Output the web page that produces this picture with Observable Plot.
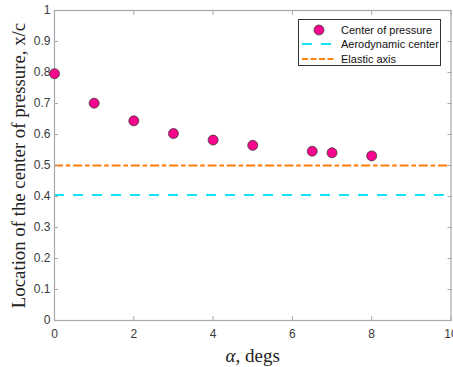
<!DOCTYPE html>
<html><head><meta charset="utf-8">
<script src="https://cdn.jsdelivr.net/npm/d3@7"></script>
<script src="https://cdn.jsdelivr.net/npm/@observablehq/plot@0.6"></script>
<style>
body{margin:0;background:#fff}
#wrap{position:relative;width:453px;height:367px;overflow:hidden}
#legend{position:absolute;left:298px;top:19px;width:143px;height:47px;border:0.8px solid #333;background:#fff;box-sizing:border-box;font-family:"Liberation Sans",Arial,sans-serif;font-size:11px;color:#111}
#legend .row{position:absolute;left:0;height:14px;display:flex;align-items:center}
#legend svg{display:block}
#legend span{margin-left:6px;white-space:nowrap}
</style></head><body><div id="wrap"></div>
<script>
// Data
const alpha = [0, 1, 2, 3, 4, 5, 6.5, 7, 8];
const xcp = [0.796, 0.701, 0.644, 0.603, 0.582, 0.565, 0.546, 0.541, 0.531];
const aeroCenter = [0.405];
const elasticAxis = [0.5];
const xTicks = [0, 2, 4, 6, 8, 10];
const yTicks = [0, 0.1, 0.2, 0.3, 0.4, 0.5, 0.6, 0.7, 0.8, 0.9, 1];
const yTickLabels = ["0", "0.1", "0.2", "0.3", "0.4", "0.5", "0.6", "0.7", "0.8", "0.9", "1"];
const seriesNames = ["Center of pressure", "Aerodynamic center", "Elastic axis"];
const xLabelSymbol = "α";
const xLabelRest = ", degs";
const yLabel = "Location of the center of pressure, x/c";

const colors = {cp: "#f7068d", ac: "#14e3f7", ea: "#ff7d0a"};
const dashAC = "10,9";
const dashEA = "9,2.8,4.6,2.8";
const points = alpha.map((a, i) => ({alpha: a, xcp: xcp[i]}));
const axisGray = "#a9a9a9";
const tickText = "#3a3a3a";

const plot = Plot.plot({
  width: 453, height: 367,
  marginLeft: 54, marginRight: 2.5, marginTop: 10, marginBottom: 47,
  x: {domain: [0, 10]},
  y: {domain: [0, 1]},
  style: {background: "#fff", overflow: "visible"},
  marks: [
    Plot.ruleY(aeroCenter, {stroke: colors.ac, strokeWidth: 2, strokeDasharray: dashAC}),
    Plot.ruleY(elasticAxis, {stroke: colors.ea, strokeWidth: 2, strokeDasharray: dashEA}),
    Plot.frame({stroke: axisGray, strokeWidth: 1.2}),
    Plot.axisX({ticks: xTicks, anchor: "bottom", tickSize: 0, tickPadding: 9, tickFormat: d => String(d), fontSize: 12, fontFamily: "Liberation Sans", fill: tickText, label: null}),
    Plot.axisX({ticks: xTicks, anchor: "bottom", tickSize: -4, text: null, label: null, stroke: axisGray}),
    Plot.axisX({ticks: xTicks, anchor: "top", tickSize: -4, text: null, label: null, stroke: axisGray}),
    Plot.axisY({ticks: yTicks, anchor: "left", tickSize: 0, tickPadding: 4, tickFormat: (d, i) => yTickLabels[i], fontSize: 12, fontFamily: "Liberation Sans", fill: tickText, label: null}),
    Plot.axisY({ticks: yTicks, anchor: "left", tickSize: -4, text: null, label: null, stroke: axisGray}),
    Plot.axisY({ticks: yTicks, anchor: "right", tickSize: -4, text: null, label: null, stroke: axisGray}),
    Plot.dot(points, {x: "alpha", y: "xcp", r: 5, fill: colors.cp, stroke: "#3c3c3c", strokeWidth: 0.8}),
    Plot.text([xLabelSymbol + xLabelRest], {frameAnchor: "bottom", dy: 35, fontSize: 19, fontFamily: "Liberation Serif", fill: "#222", lineAnchor: "middle", textAnchor: "middle"}),
    Plot.text([yLabel], {frameAnchor: "left", dx: -36, rotate: -90, fontSize: 18.8, fontFamily: "Liberation Serif", fill: "#222", lineAnchor: "middle", textAnchor: "middle"})
  ]
});

// italic alpha
const ns = "http://www.w3.org/2000/svg";
plot.querySelectorAll("text").forEach(t => {
  if (t.textContent === xLabelSymbol + xLabelRest) {
    t.textContent = "";
    const a = document.createElementNS(ns, "tspan");
    a.setAttribute("font-style", "italic");
    a.textContent = xLabelSymbol;
    t.append(a, document.createTextNode(xLabelRest));
  }
});

const wrap = document.getElementById("wrap");
wrap.append(plot);

// legend
const legend = document.createElement("div");
legend.id = "legend";
const samples = [
  `<svg width="36" height="14"><circle cx="20" cy="7" r="5" fill="${colors.cp}" stroke="#3c3c3c" stroke-width="0.8"/></svg>`,
  `<svg width="36" height="14"><line x1="3" x2="36" y1="7" y2="7" stroke="${colors.ac}" stroke-width="2" stroke-dasharray="${dashAC}"/></svg>`,
  `<svg width="36" height="14"><line x1="3" x2="36" y1="7" y2="7" stroke="${colors.ea}" stroke-width="2" stroke-dasharray="6,2.5"/></svg>`
];
seriesNames.forEach((name, i) => {
  const row = document.createElement("div");
  row.className = "row";
  row.style.top = (2.5 + i * 14.8) + "px";
  row.innerHTML = samples[i] + `<span>${name}</span>`;
  legend.append(row);
});
wrap.append(legend);
</script></body></html>
